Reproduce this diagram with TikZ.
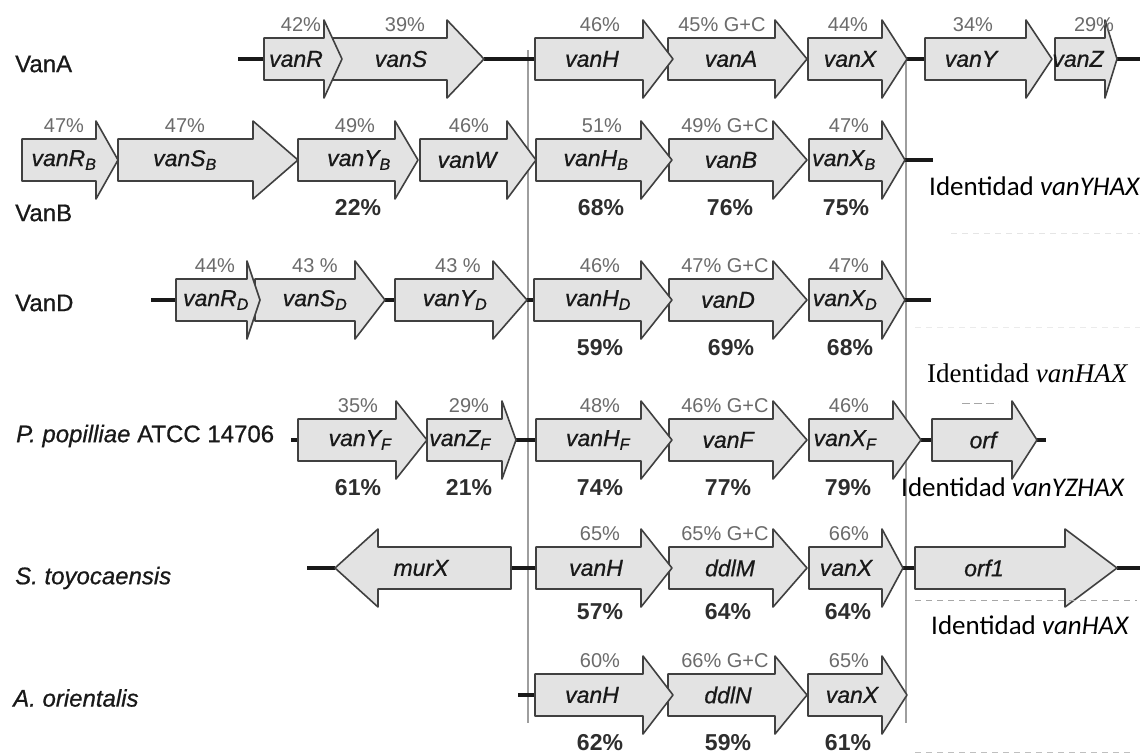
\documentclass[tikz,border=0pt]{standalone}
\usepackage{fontspec}
\setmainfont{Liberation Sans}
\newfontfamily\heavy{Liberation Sans}[FakeBold=0.7]
\newfontfamily\carl{Carlito}
\newfontfamily\tnr{Liberation Serif}
\pgfdeclarelayer{bg}
\pgfsetlayers{bg,main}
\def\gbody{21}
\def\ghead{39}
\newcommand{\genearr}[7]{%
  \draw[genebox] (#2,#5-\gbody) -- (#3,#5-\gbody) -- (#3,#5-\ghead) -- (#4,#5) -- (#3,#5+\ghead) -- (#3,#5+\gbody) -- (#2,#5+\gbody) -- cycle;
  \coordinate (#1-l) at (#2,#5);
  \coordinate (#1-r) at (#4,#5);
  \node[genetext] (#1) at (#7,#5) {#6};
}
\newcommand{\revgenearr}[7]{%
  \draw[genebox] (#4,#5-\gbody) -- (#3,#5-\gbody) -- (#3,#5-\ghead) -- (#2,#5) -- (#3,#5+\ghead) -- (#3,#5+\gbody) -- (#4,#5+\gbody) -- cycle;
  \coordinate (#1-l) at (#2,#5);
  \coordinate (#1-r) at (#4,#5);
  \node[genetext] (#1) at (#7,#5) {#6};
}
\tikzset{
  genebox/.style={fill=black!11, draw=black!75, line width=1.6pt, line join=round},
  genetext/.style={font=\heavy\itshape\fontsize{23}{25}\selectfont, text=black!90, inner sep=0pt},
  toppct/.style={font=\fontsize{20}{22}\selectfont, text=black!58, inner sep=0pt},
  botpct/.style={font=\bfseries\fontsize{23}{25}\selectfont, text=black!82, inner sep=0pt},
  dna/.style={line width=3.6pt, draw=black!90},
  guide/.style={line width=1.8pt, draw=black!38},
  rowlabel/.style={font=\heavy\fontsize{24}{26}\selectfont, anchor=west, inner sep=0pt, text=black!90},
  ident/.style={font=\carl\fontsize{27}{30}\selectfont, anchor=west, inner sep=0pt},
  artifact/.style={draw=black!22, line width=1pt, dash pattern=on 6pt off 5pt}
}
\begin{document}
\begin{tikzpicture}[x=1pt,y=-1pt]
\useasboundingbox (0,0) rectangle (1140,755);

% ---------- VanA (y=59)
\genearr{aZ}{1055}{1105}{1117}{59}{vanZ}{1078}
\genearr{aY}{925}{1026}{1052}{59}{vanY}{971}
\genearr{aX}{808}{882}{907}{59}{vanX}{850}
\genearr{aA}{668}{775}{807}{59}{vanA}{731}
\genearr{aH}{535}{643}{673}{59}{vanH}{592}
\genearr{aS}{330}{447}{484}{59}{vanS}{401}
\genearr{aR}{264}{324}{342}{59}{vanR}{296}
\node[toppct] (aR-t) at (301,25) {42\%};
\node[toppct] (aS-t) at (405,25) {39\%};
\node[toppct] (aH-t) at (600,25) {46\%};
\node[toppct] (aA-t) at (722,25) {45\% G+C};
\node[toppct] (aX-t) at (848,25) {44\%};
\node[toppct] (aY-t) at (973,25) {34\%};
\node[toppct] (aZ-t) at (1094,25) {29\%};
\coordinate (a0) at (238,59);
\coordinate (a9) at (1140,59);

% ---------- VanB (y=160)
\genearr{bX}{809}{882}{905}{160}{vanX\textsubscript{B}}{844}
\genearr{bB}{669}{773}{807}{160}{vanB}{731}
\genearr{bH}{536}{641}{672}{160}{vanH\textsubscript{B}}{596}
\genearr{bW}{420}{507}{536}{160}{vanW}{467}
\genearr{bY}{298}{395}{418}{160}{vanY\textsubscript{B}}{359}
\genearr{bS}{118}{253}{298}{160}{vanS\textsubscript{B}}{185}
\genearr{bR}{22}{96}{118}{160}{vanR\textsubscript{B}}{64}
\node[toppct] (bR-t) at (64,126) {47\%};
\node[toppct] (bS-t) at (185,126) {47\%};
\node[toppct] (bY-t) at (355,126) {49\%};
\node[toppct] (bW-t) at (469,126) {46\%};
\node[toppct] (bH-t) at (602,126) {51\%};
\node[toppct] (bB-t) at (725,126) {49\% G+C};
\node[toppct] (bX-t) at (849,126) {47\%};
\node[botpct] (bY-b) at (358,208) {22\%};
\node[botpct] (bH-b) at (601,208) {68\%};
\node[botpct] (bB-b) at (730,208) {76\%};
\node[botpct] (bX-b) at (846,208) {75\%};
\coordinate (b9) at (933,160);

% ---------- VanD (y=300)
\genearr{dX}{809}{882}{905}{300}{vanX\textsubscript{D}}{845}
\genearr{dD}{669}{773}{807}{300}{vanD}{728}
\genearr{dH}{534}{641}{672}{300}{vanH\textsubscript{D}}{598}
\genearr{dY}{395}{493}{527}{300}{vanY\textsubscript{D}}{455}
\genearr{dS}{255}{355}{385}{300}{vanS\textsubscript{D}}{315}
\genearr{dR}{176}{247}{260}{300}{vanR\textsubscript{D}}{216}
\node[toppct] (dR-t) at (215,266) {44\%};
\node[toppct] (dS-t) at (315,266) {43 \%};
\node[toppct] (dY-t) at (458,266) {43 \%};
\node[toppct] (dH-t) at (600,266) {46\%};
\node[toppct] (dD-t) at (725,266) {47\% G+C};
\node[toppct] (dX-t) at (849,266) {47\%};
\node[botpct] (dH-b) at (600,348) {59\%};
\node[botpct] (dD-b) at (731,348) {69\%};
\node[botpct] (dX-b) at (850,348) {68\%};
\coordinate (d0) at (151,300);
\coordinate (d9) at (931,300);

% ---------- P. popilliae (y=440)
\genearr{pO}{932}{1012}{1037}{440}{orf}{983}
\genearr{pX}{809}{893}{921}{440}{vanX\textsubscript{F}}{845}
\genearr{pF}{669}{773}{807}{440}{vanF}{728}
\genearr{pH}{536}{641}{672}{440}{vanH\textsubscript{F}}{598}
\genearr{pZ}{427}{502}{516}{440}{vanZ\textsubscript{F}}{460}
\genearr{pY}{298}{396}{427}{440}{vanY\textsubscript{F}}{360}
\node[toppct] (pY-t) at (358,406) {35\%};
\node[toppct] (pZ-t) at (469,406) {29\%};
\node[toppct] (pH-t) at (600,406) {48\%};
\node[toppct] (pF-t) at (725,406) {46\% G+C};
\node[toppct] (pX-t) at (849,406) {46\%};
\node[botpct] (pY-b) at (358,488) {61\%};
\node[botpct] (pZ-b) at (469,488) {21\%};
\node[botpct] (pH-b) at (600,488) {74\%};
\node[botpct] (pF-b) at (728,488) {77\%};
\node[botpct] (pX-b) at (848,488) {79\%};
\coordinate (p0) at (291,440);
\coordinate (p9) at (1046,440);

% ---------- S. toyocaensis (y=568)
\genearr{sO}{915}{1065}{1117}{568}{orf1}{984}
\genearr{sX}{809}{882}{903}{568}{vanX}{846}
\genearr{sD}{669}{773}{807}{568}{ddlM}{730}
\genearr{sH}{536}{641}{672}{568}{vanH}{596}
\revgenearr{sM}{335}{378}{511}{568}{murX}{421}
\node[toppct] (sH-t) at (600,534) {65\%};
\node[toppct] (sD-t) at (725,534) {65\% G+C};
\node[toppct] (sX-t) at (849,534) {66\%};
\node[botpct] (sH-b) at (600,612) {57\%};
\node[botpct] (sD-b) at (728,612) {64\%};
\node[botpct] (sX-b) at (848,612) {64\%};
\coordinate (s0) at (307,568);
\coordinate (s9) at (1140,568);

% ---------- A. orientalis (y=695)
\genearr{oX}{808}{882}{907}{695}{vanX}{852}
\genearr{oD}{668}{775}{807}{695}{ddlN}{728}
\genearr{oH}{535}{643}{673}{695}{vanH}{592}
\node[toppct] (oH-t) at (600,661) {60\%};
\node[toppct] (oD-t) at (725,661) {66\% G+C};
\node[toppct] (oX-t) at (849,661) {65\%};
\node[botpct] (oH-b) at (600,743) {62\%};
\node[botpct] (oD-b) at (728,743) {59\%};
\node[botpct] (oX-b) at (848,743) {61\%};
\coordinate (o0) at (518,695);

% ---------- guides and connectors behind the genes
\coordinate (g1t) at (528,50);
\coordinate (g1b) at (528,723);
\coordinate (g2t) at (906,59);
\coordinate (g2b) at (906,723);
\begin{pgfonlayer}{bg}
  \fill[white] (0,0) rectangle (1140,755);
  \draw[guide] (g1t) -- (g1b);
  \draw[guide] (g2t) -- (g2b);
  \draw[dna] (a0) -- (aR-l);
  \draw[dna] (aS-r) -- (aH-l);
  \draw[dna] (aX-r) -- (aY-l);
  \draw[dna] (aZ-r) -- (a9);
  \draw[dna] (bX-r) -- (b9);
  \draw[dna] (d0) -- (dR-l);
  \draw[dna] (dS-r) -- (dY-l);
  \draw[dna] (dY-r) -- (dH-l);
  \draw[dna] (dX-r) -- (d9);
  \draw[dna] (p0) -- (pY-l);
  \draw[dna] (pZ-r) -- (pH-l);
  \draw[dna] (pX-r) -- (pO-l);
  \draw[dna] (pO-r) -- (p9);
  \draw[dna] (s0) -- (sM-l);
  \draw[dna] (sM-r) -- (sH-l);
  \draw[dna] (sX-r) -- (sO-l);
  \draw[dna] (sO-r) -- (s9);
  \draw[dna] (o0) -- (oH-l);
\end{pgfonlayer}

% ---------- faint scan marks
\coordinate (m1a) at (951,233); \coordinate (m1b) at (1140,233);
\coordinate (m2a) at (915,327); \coordinate (m2b) at (1140,327);
\coordinate (m3a) at (915,600); \coordinate (m3b) at (1137,600);
\coordinate (m4a) at (915,752); \coordinate (m4b) at (1130,752);
\coordinate (m5a) at (962,403); \coordinate (m5b) at (998,403);
\draw[artifact, draw=black!10] (m1a) -- (m1b);
\draw[artifact, draw=black!8] (m2a) -- (m2b);
\draw[artifact, draw=black!35] (m3a) -- (m3b);
\draw[artifact, draw=black!25] (m4a) -- (m4b);
\draw[artifact, draw=black!35, dash pattern=on 8pt off 4pt] (m5a) -- (m5b);

% ---------- row labels
\node[rowlabel] (lA) at (15,64) {VanA};
\node[rowlabel] (lB) at (15,213) {VanB};
\node[rowlabel] (lD) at (15,303) {VanD};
\node[rowlabel] (lP) at (16,436) {\itshape P. popilliae\upshape{} ATCC 14706};
\node[rowlabel] (lS) at (15,578) {\itshape S. toyocaensis};
\node[rowlabel] (lO) at (13,698) {\itshape A. orientalis};

% ---------- identity notes
\node[ident] (i1) at (929,186) {Identidad \textit{vanYHAX}};
\node[ident, font=\tnr\fontsize{27}{30}\selectfont] (i2) at (927,373) {Identidad \textit{vanHAX}};
\node[ident] (i3) at (901,487) {Identidad \textit{vanYZHAX}};
\node[ident] (i4) at (931,625) {Identidad \textit{vanHAX}};
\end{tikzpicture}
\end{document}
